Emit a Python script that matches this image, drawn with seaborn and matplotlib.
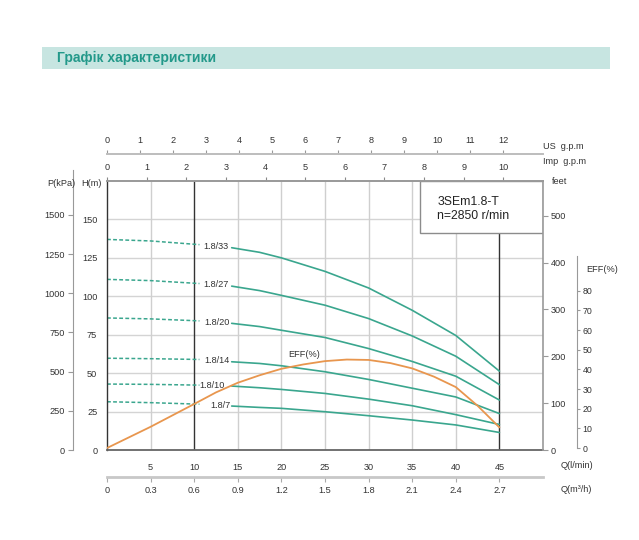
import numpy as np
import pandas as pd
import seaborn as sns
import matplotlib.pyplot as plt
from matplotlib.patches import Rectangle

# flow points (l/min)
q_dash = [0, 5, 10.6]
q_solid = [14.3, 17.5, 20, 25, 30, 35, 40, 45]

curve_names = ['1.8/33', '1.8/27', '1.8/20', '1.8/14', '1.8/10', '1.8/7']

# head H(m) - dashed part (low flow) and solid part
h33_dash = [137, 136, 133.6]
h27_dash = [111, 110.2, 108.3]
h20_dash = [85.9, 85.3, 84]
h14_dash = [59.7, 59.4, 58.9]
h10_dash = [42.9, 42.7, 42.2]
h7_dash = [31.4, 30.8, 29.8]

h33 = [131.6, 128.6, 125, 116.2, 105.4, 90.9, 74.5, 51.3]
h27 = [106.6, 103.7, 100.6, 94.2, 85.5, 74.2, 61, 42.5]
h20 = [82.4, 80.3, 77.9, 73.2, 66, 57.6, 48, 32.5]
h14 = [57.4, 56.3, 54.8, 50.9, 45.9, 40.2, 34.5, 23.7]
h10 = [41.6, 40.5, 39.4, 36.8, 33.1, 28.8, 23, 16.6]
h7 = [28.6, 27.7, 27.1, 24.9, 22.3, 19.5, 16.3, 11.4]

# efficiency curve
q_eff = [0, 5, 10, 12.5, 15, 17.5, 20, 22.5, 25, 27.5, 30, 32.5, 35, 37.5, 40, 42.5, 45]
eff = [0, 10.8, 22.4, 28.3, 33.2, 37, 40.3, 42.5, 44.2, 45, 44.8, 43.2, 40.5, 36.3, 31, 21.5, 10.5]

q_ticks = [5, 10, 15, 20, 25, 30, 35, 40, 45]
m3h_ticks = [0, 0.3, 0.6, 0.9, 1.2, 1.5, 1.8, 2.1, 2.4, 2.7]
h_ticks = [0, 25, 50, 75, 100, 125, 150]
p_ticks = [0, 250, 500, 750, 1000, 1250, 1500]
ft_ticks = [0, 100, 200, 300, 400, 500]
eff_ticks = [0, 10, 20, 30, 40, 50, 60, 70, 80]
us_ticks = list(range(13))
imp_ticks = list(range(11))

dash_list = [h33_dash, h27_dash, h20_dash, h14_dash, h10_dash, h7_dash]
solid_list = [h33, h27, h20, h14, h10, h7]
label_q = [12.45, 12.45, 12.6, 12.6, 12.1, 13.0]

rows = []
for name, hd, hs in zip(curve_names, dash_list, solid_list):
    for q, h in zip(q_dash, hd):
        rows.append((name, 'dash', q, h))
    for q, h in zip(q_solid, hs):
        rows.append((name, 'solid', q, h))
df = pd.DataFrame(rows, columns=['curve', 'part', 'Q', 'H'])
df_eff = pd.DataFrame({'Q': q_eff, 'EFF': eff})

sns.set_style('white')
plt.rcParams['font.family'] = ['Liberation Sans', 'DejaVu Sans']

teal = '#3aa68e'
orange = '#e8964e'
fs = 6.6
px = 72 / 100  # points per pixel

fig = plt.figure(figsize=(6.39, 5.4), dpi=100)
ax = fig.add_axes([107 / 639, 90 / 540, 436 / 639, 269 / 540])
ax.set_xlim(0, 50)
ax.set_ylim(0, 175)

# grid
for h in h_ticks[1:]:
    ax.axhline(h, color='#d4d4d4', lw=1, zorder=0.5)
for q in q_ticks:
    dark = q in (10, 45)
    ax.axvline(q, color='#333333' if dark else '#cfcfcf', lw=1, zorder=0.6)

# pump curves
sns.lineplot(data=df[df.part == 'dash'], x='Q', y='H', units='curve', estimator=None,
             color=teal, lw=1.1, linestyle=(0, (2.5, 1.5)), ax=ax, legend=False)
sns.lineplot(data=df[df.part == 'solid'], x='Q', y='H', units='curve', estimator=None,
             color=teal, lw=1.2, ax=ax, legend=False)
for name, hd, hs, lq in zip(curve_names, dash_list, solid_list, label_q):
    ax.text(lq, (hd[-1] + hs[0]) / 2, name, ha='center', va='center',
            fontsize=fs, color='#333333')

# model box
ax.add_patch(Rectangle((35.95, 141.4), 14.05, 33.6, facecolor='white',
                       edgecolor='#8c8c8c', lw=1, zorder=5))
ax.text(37.9, 156.8, '3SEm1.8-T\nn=2850 r/min', ha='left', va='center',
        fontsize=8.8, color='#222222', linespacing=1.15, zorder=6)

ax.set_xticks(q_ticks)
ax.set_yticks(h_ticks)
ax.tick_params(axis='both', length=0, labelsize=fs, colors='#333333')
ax.tick_params(axis='x', pad=9.5)
ax.tick_params(axis='y', pad=7)
ax.set_xlabel('')
ax.set_ylabel('')
for s in ['top', 'right']:
    ax.spines[s].set_visible(False)
ax.spines['left'].set_color('#333333')
ax.spines['left'].set_linewidth(1)
ax.spines['bottom'].set_color('#666666')
ax.spines['bottom'].set_linewidth(1.3)


def bare(a):
    for s in a.spines.values():
        s.set_visible(False)
    return a


# Imp g.p.m on the top edge
ax_imp = bare(ax.twiny())
ax_imp.set_xlim(0, 50 / 4.546)
ax_imp.set_xticks(imp_ticks)
ax_imp.spines['top'].set_visible(True)
ax_imp.spines['top'].set_color('#999999')
ax_imp.spines['top'].set_linewidth(1.4)
ax_imp.tick_params(axis='x', direction='out', length=4 * px, width=0.8,
                   labelsize=fs, pad=3.5, colors='#333333')
ax_imp.tick_params(axis='x', color='#888888')

# US g.p.m further up
ax_us = bare(ax.twiny())
ax_us.set_xlim(0, 50 / 3.785)
ax_us.set_xticks(us_ticks)
ax_us.spines['top'].set_visible(True)
ax_us.spines['top'].set_position(('outward', 27 * px))
ax_us.spines['top'].set_color('#bdbdbd')
ax_us.spines['top'].set_linewidth(1.4)
ax_us.tick_params(axis='x', direction='out', length=4 * px, width=0.8, labelsize=fs,
                  pad=3.5, colors='#333333')
ax_us.tick_params(axis='x', color='#999999')

# m3/h below
ax_m3 = bare(ax.twiny())
ax_m3.xaxis.set_ticks_position('bottom')
ax_m3.xaxis.set_label_position('bottom')
ax_m3.set_xlim(0, 3)
ax_m3.set_xticks(m3h_ticks)
ax_m3.set_xticklabels([f'{t:g}' for t in m3h_ticks])
ax_m3.spines['bottom'].set_visible(True)
ax_m3.spines['bottom'].set_position(('outward', 27 * px))
ax_m3.spines['bottom'].set_color('#c8c8c8')
ax_m3.spines['bottom'].set_linewidth(2)
ax_m3.tick_params(axis='x', direction='out', length=5 * px, width=0.8, labelsize=fs,
                  pad=3, colors='#333333')
ax_m3.tick_params(axis='x', color='#aaaaaa')

# P(kPa) on the far left
ax_p = bare(ax.twinx())
ax_p.yaxis.set_ticks_position('left')
ax_p.set_ylim(0, 175 * 9.81)
ax_p.set_yticks(p_ticks)
ax_p.spines['left'].set_visible(True)
ax_p.spines['left'].set_position(('outward', 34 * px))
ax_p.spines['left'].set_bounds(0, 1790)
ax_p.spines['left'].set_color('#999999')
ax_p.tick_params(axis='y', direction='out', length=5 * px, width=0.8, labelsize=fs,
                 pad=2, colors='#333333')
ax_p.tick_params(axis='y', color='#999999')

# feet on the right edge
ax_ft = bare(ax.twinx())
ax_ft.set_ylim(0, 175 * 3.281)
ax_ft.set_yticks(ft_ticks)
ax_ft.spines['right'].set_visible(True)
ax_ft.spines['right'].set_color('#999999')
ax_ft.spines['right'].set_linewidth(1.2)
ax_ft.tick_params(axis='y', direction='out', length=5 * px, width=0.8, labelsize=fs,
                  pad=2, colors='#333333')
ax_ft.tick_params(axis='y', color='#999999')

# efficiency
ax_eff = bare(ax.twinx())
ax_eff.set_ylim(-1.0, 135.8)
sns.lineplot(data=df_eff, x='Q', y='EFF', color=orange, lw=1.3, ax=ax_eff)
ax_eff.set_xlim(0, 50)
ax_eff.set_yticks(eff_ticks)
ax_eff.set_ylabel('')
ax_eff.spines['right'].set_visible(True)
ax_eff.spines['right'].set_position(('outward', 34 * px))
ax_eff.spines['right'].set_bounds(0, 97.7)
ax_eff.spines['right'].set_color('#999999')
ax_eff.tick_params(axis='y', direction='out', length=3 * px, width=0.8, labelsize=fs - 0.3,
                   pad=2, colors='#333333')
ax_eff.tick_params(axis='y', color='#999999')
ax_eff.text(20.8, 47.5, 'EFF(%)', fontsize=fs, color='#333333', ha='left', va='center')

# unit labels
W, H = 639, 540
def ftext(x, y, s, **kw):
    fig.text(x / W, 1 - y / H, s, fontsize=fs, color='#333333', va='center', **kw)

ftext(47, 183, 'P(kPa)')
ftext(81, 183, 'H(m)')
ftext(552, 182, 'feet')
ftext(586, 270, 'EFF(%)')
ftext(543, 147, 'US  g.p.m')
ftext(543, 161, 'Imp  g.p.m')
ftext(561, 466, 'Q(l/min)')
ftext(561, 490, 'Q(m³/h)')

# title band
fig.patches.append(Rectangle((42 / W, 1 - 69 / H), 568 / W, 22 / H, transform=fig.transFigure,
                             facecolor='#c7e5e1', edgecolor='none', zorder=0))
fig.text(57 / W, 1 - 58 / H, 'Графік характеристики', fontsize=10, fontweight='bold',
         color='#23998a', va='center')

fig.savefig('out.png', dpi=100)
